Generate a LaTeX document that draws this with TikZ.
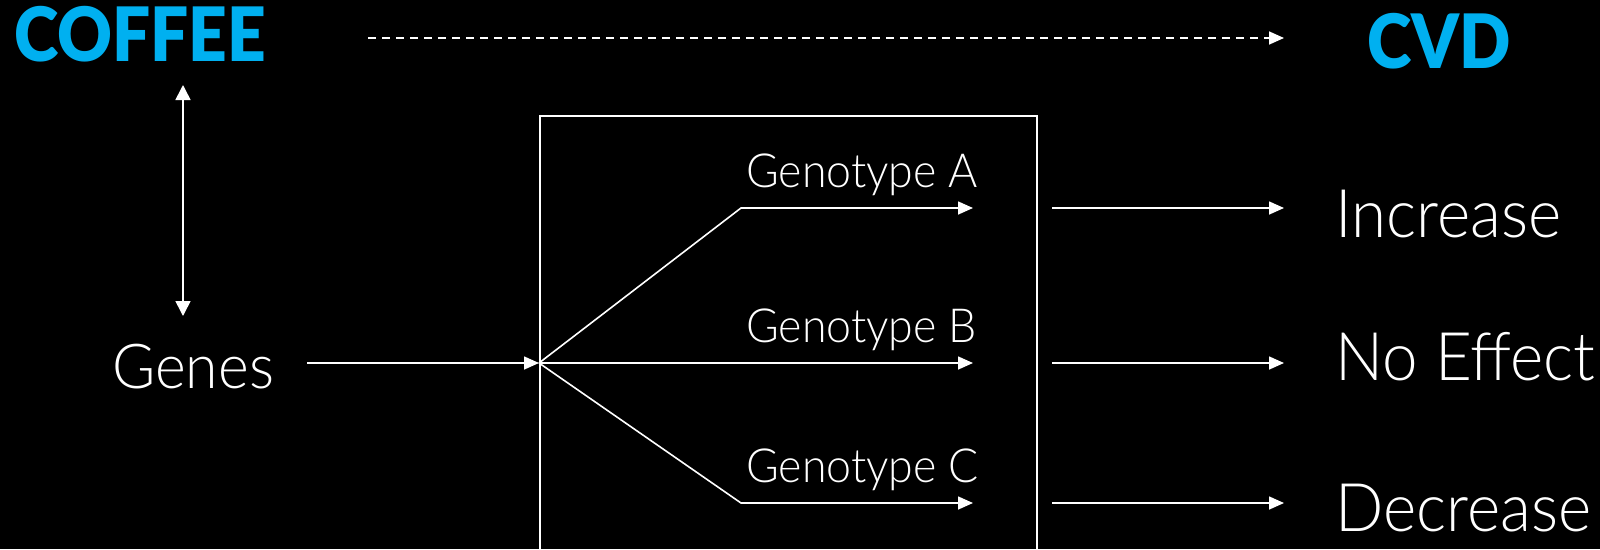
\documentclass[tikz,border=0pt]{standalone}
\usepackage{fontspec}
\setmainfont{Lato}[UprightFont={* Light}, FakeStretch=0.95]
\newfontfamily\headfont{Lato}[UprightFont={* Black}, FakeStretch=0.9]
\usetikzlibrary{arrows.meta}
\definecolor{cblue}{RGB}{0,176,240}
\begin{document}
\begin{tikzpicture}[x=1pt,y=-1pt,
  lbl/.style={text=white, inner sep=0pt, anchor=base west},
  head/.style={text=cblue, inner sep=0pt, anchor=base west, font=\headfont\fontsize{75}{78}\selectfont},
  big/.style={lbl, font=\fontsize{67}{70}\selectfont},
  geno/.style={lbl, font=\fontsize{47}{50}\selectfont},
  wline/.style={draw=white, line width=1.6pt},
  arr/.style={wline, -{Triangle[length=15pt,width=13pt]}},
  darr/.style={wline, {Triangle[length=15pt,width=15pt]}-{Triangle[length=15pt,width=15pt]}},
  dasharr/.style={wline, dash pattern=on 8pt off 6pt, -{Triangle[length=15pt,width=13pt]}},
  boxst/.style={draw=white, line width=1.6pt, minimum width=497pt, minimum height=460pt, anchor=north west, inner sep=0pt}
]
\fill[black] (0,0) rectangle (1600,549);
\clip (0,0) rectangle (1600,549);

% titles
\node[head] (coffee) at (14,61) {COFFEE};
\node[head] (cvd) at (1367,68) {CVD};
\coordinate (dashS) at (368,38);
\coordinate (dashE) at (1284,38);
\draw[dasharr] (dashS) -- (dashE);

% coffee <-> genes
\node[lbl, font=\fontsize{62}{66}\selectfont] (genes) at (112,388) {Genes};
\coordinate (vtop) at (183,85);
\coordinate (vbot) at (183,316);
\draw[darr] (vtop) -- (vbot);

% box
\node[boxst] (box) at (539,115) {};
\coordinate (fork) at (539,363);
\coordinate (gS) at (307,363);
\draw[arr] (gS) -- (fork);

% branches
\coordinate (kA) at (741,208);
\coordinate (kC) at (741,503);
\coordinate (tA) at (973,208);
\coordinate (tB) at (973,363);
\coordinate (tC) at (973,503);
\draw[arr] (fork) -- (kA) -- (tA);
\draw[arr] (fork) -- (tB);
\draw[arr] (fork) -- (kC) -- (tC);

\node[geno] (gA) at (746,187) {Genotype A};
\node[geno] (gB) at (746,342) {Genotype B};
\node[geno] (gC) at (746,482) {Genotype C};

% outcomes
\coordinate (rA) at (1052,208);
\coordinate (rB) at (1052,363);
\coordinate (rC) at (1052,503);
\coordinate (eA) at (1284,208);
\coordinate (eB) at (1284,363);
\coordinate (eC) at (1284,503);
\draw[arr] (rA) -- (eA);
\draw[arr] (rB) -- (eB);
\draw[arr] (rC) -- (eC);

\node[big] (inc) at (1335,237) {Increase};
\node[big] (noe) at (1335,380) {No Effect};
\node[big] (dec) at (1335,531) {Decrease};
\end{tikzpicture}
\end{document}
